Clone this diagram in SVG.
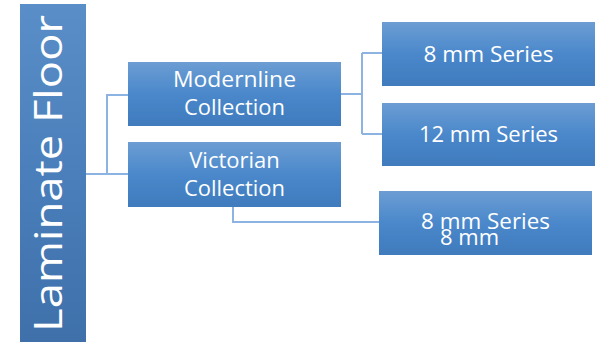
<svg xmlns="http://www.w3.org/2000/svg" width="602" height="343" viewBox="0 0 602 343">
<style>
.conn{fill:none;stroke:#8db3e2;stroke-width:2}
.box{fill:url(#g)}
.t{font-family:"Open Sans","Liberation Sans",sans-serif;font-size:22px;fill:#ffffff;text-anchor:middle}
</style>
<defs>
<linearGradient id="g" x1="0" y1="0" x2="0" y2="1">
<stop offset="0" stop-color="#6c9dd3"/>
<stop offset="0.5" stop-color="#4a88cb"/>
<stop offset="1" stop-color="#3f7bbd"/>
</linearGradient>
<linearGradient id="gb" x1="0" y1="0" x2="0" y2="1">
<stop offset="0" stop-color="#5a8ec8"/>
<stop offset="0.5" stop-color="#4a7fbb"/>
<stop offset="1" stop-color="#3f70aa"/>
</linearGradient>
</defs>
<g id="connectors">
<path class="conn" d="M86 174 H128 M107 174 V95 H128"/>
<path class="conn" d="M341 94 H362 M362 53 V134 M362 53 H382 M362 134 H382"/>
<path class="conn" d="M233 207 V222 H379"/>
</g>
<g id="laminate-floor">
<rect x="20" y="4" width="66" height="338" fill="url(#gb)"/>
<text class="t" transform="translate(62,173.5) rotate(-90)" x="0" y="0" style="font-size:39px" textLength="317" lengthAdjust="spacingAndGlyphs">Laminate Floor</text>
</g>
<g id="modernline">
<rect class="box" x="128" y="62" width="213" height="64"/>
<text class="t" x="234.5" y="87" textLength="123" lengthAdjust="spacingAndGlyphs">Modernline</text>
<text class="t" x="234.5" y="115" textLength="101" lengthAdjust="spacingAndGlyphs">Collection</text>
</g>
<g id="victorian">
<rect class="box" x="128" y="142" width="213" height="65"/>
<text class="t" x="234.5" y="168">Victorian</text>
<text class="t" x="234.5" y="196" textLength="101" lengthAdjust="spacingAndGlyphs">Collection</text>
</g>
<g id="modern-8mm">
<rect class="box" x="382" y="22" width="213" height="64"/>
<text class="t" x="488.5" y="62" textLength="130" lengthAdjust="spacingAndGlyphs">8 mm Series</text>
</g>
<g id="modern-12mm">
<rect class="box" x="382" y="103" width="213" height="63"/>
<text class="t" x="488.5" y="142">12 mm Series</text>
</g>
<g id="victorian-8mm">
<rect class="box" x="379" y="191" width="213" height="64"/>
<text class="t" x="485.5" y="229" textLength="129" lengthAdjust="spacingAndGlyphs">8 mm Series</text>
<text class="t" x="469.5" y="245">8 mm</text>
</g>
</svg>
